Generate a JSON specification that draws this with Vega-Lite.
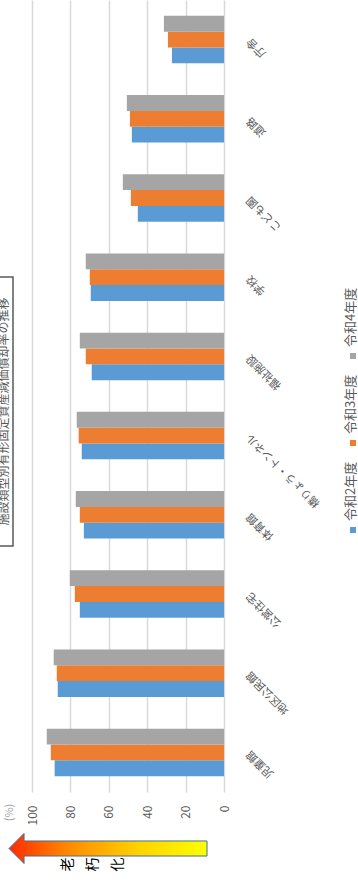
{
  "$schema": "https://vega.github.io/schema/vega-lite/v6.json",
  "padding": 0,
  "spacing": 3.5,
  "datasets": {
    "rates": [
      {"category": "庁舎", "year": "令和2年度", "value": 27.1},
      {"category": "庁舎", "year": "令和3年度", "value": 29.2},
      {"category": "庁舎", "year": "令和4年度", "value": 31.3},
      {"category": "道路", "year": "令和2年度", "value": 48.0},
      {"category": "道路", "year": "令和3年度", "value": 49.0},
      {"category": "道路", "year": "令和4年度", "value": 50.6},
      {"category": "こども園", "year": "令和2年度", "value": 44.9},
      {"category": "こども園", "year": "令和3年度", "value": 48.5},
      {"category": "こども園", "year": "令和4年度", "value": 52.7},
      {"category": "学校", "year": "令和2年度", "value": 69.4},
      {"category": "学校", "year": "令和3年度", "value": 69.9},
      {"category": "学校", "year": "令和4年度", "value": 72.0},
      {"category": "福祉施設", "year": "令和2年度", "value": 68.9},
      {"category": "福祉施設", "year": "令和3年度", "value": 72.0},
      {"category": "福祉施設", "year": "令和4年度", "value": 75.1},
      {"category": "橋りょう・トンネル", "year": "令和2年度", "value": 74.1},
      {"category": "橋りょう・トンネル", "year": "令和3年度", "value": 75.7},
      {"category": "橋りょう・トンネル", "year": "令和4年度", "value": 76.7},
      {"category": "体育館", "year": "令和2年度", "value": 73.0},
      {"category": "体育館", "year": "令和3年度", "value": 75.1},
      {"category": "体育館", "year": "令和4年度", "value": 77.2},
      {"category": "公営住宅", "year": "令和2年度", "value": 75.1},
      {"category": "公営住宅", "year": "令和3年度", "value": 77.7},
      {"category": "公営住宅", "year": "令和4年度", "value": 80.3},
      {"category": "地区公民館", "year": "令和2年度", "value": 86.6},
      {"category": "地区公民館", "year": "令和3年度", "value": 87.1},
      {"category": "地区公民館", "year": "令和4年度", "value": 88.7},
      {"category": "児童館", "year": "令和2年度", "value": 88.2},
      {"category": "児童館", "year": "令和3年度", "value": 90.2},
      {"category": "児童館", "year": "令和4年度", "value": 92.3}
    ],
    "years": [
      {"year": "令和2年度"},
      {"year": "令和3年度"},
      {"year": "令和4年度"}
    ],
    "heading": [
      {"title": "施設類型別有形固定資産減価償却率の推移"}
    ],
    "aging": [
      {"label": "老\n朽\n化"}
    ]
  },
  "vconcat": [
    {
      "bounds": "flush",
      "spacing": 0,
      "hconcat": [
        {
          "width": 32,
          "height": 792,
          "data": {"name": "heading"},
          "layer": [
            {
              "mark": {
                "type": "point",
                "shape": "M-0.0669,-1H0.0669V1H-0.0669Z",
                "size": 72361,
                "filled": false,
                "stroke": "#595959",
                "strokeWidth": 1.5,
                "opacity": 1,
                "xOffset": -12,
                "yOffset": 15.5,
                "clip": true
              },
              "encoding": {}
            },
            {
              "mark": {
                "type": "text",
                "angle": 270,
                "align": "center",
                "baseline": "middle",
                "font": "Noto Sans CJK JP",
                "fontSize": 12,
                "color": "#595959",
                "xOffset": -12,
                "yOffset": 15.5,
                "clip": true
              },
              "encoding": {"text": {"field": "title"}}
            }
          ]
        },
        {
          "width": 192,
          "height": 792,
          "data": {"name": "rates"},
          "mark": {"type": "bar"},
          "encoding": {
            "y": {
              "field": "category",
              "type": "nominal",
              "sort": ["庁舎", "道路", "こども園", "学校", "福祉施設", "橋りょう・トンネル", "体育館", "公営住宅", "地区公民館", "児童館"],
              "scale": {"paddingInner": 0.4, "paddingOuter": 0.2},
              "axis": {
                "orient": "right",
                "title": null,
                "domain": false,
                "ticks": false,
                "grid": false,
                "labelAngle": 225,
                "labelAlign": "right",
                "labelBaseline": "middle",
                "labelPadding": 24,
                "labelFont": "Noto Sans CJK JP",
                "labelFontSize": 11,
                "labelColor": "#595959",
                "labelLimit": 200
              }
            },
            "yOffset": {
              "field": "year",
              "type": "nominal",
              "sort": ["令和4年度", "令和3年度", "令和2年度"],
              "scale": {"paddingInner": 0, "paddingOuter": 0}
            },
            "x": {
              "field": "value",
              "type": "quantitative",
              "scale": {"domain": [0, 100], "reverse": true, "nice": false},
              "axis": {
                "values": [0, 20, 40, 60, 80, 100],
                "grid": true,
                "gridColor": "#d9d9d9",
                "gridWidth": 1.5,
                "domain": false,
                "ticks": false,
                "labelAngle": 270,
                "labelAlign": "right",
                "labelBaseline": "middle",
                "labelPadding": 13,
                "labelFont": "Noto Sans CJK JP",
                "labelFontSize": 12,
                "labelColor": "#595959",
                "title": "(%)",
                "titleAngle": 270,
                "titleX": -23,
                "titleY": 20,
                "titleAlign": "center",
                "titleBaseline": "middle",
                "titleFont": "Noto Sans CJK JP",
                "titleFontSize": 11,
                "titleFontWeight": "normal",
                "titleColor": "#a6a6a6"
              }
            },
            "color": {
              "field": "year",
              "type": "nominal",
              "scale": {"domain": ["令和2年度", "令和3年度", "令和4年度"], "range": ["#5b9bd5", "#ed7d31", "#a5a5a5"]},
              "legend": null
            }
          }
        },
        {
          "width": 134,
          "height": 792,
          "data": {"name": "years"},
          "encoding": {
            "y": {
              "field": "year",
              "type": "nominal",
              "sort": ["令和4年度", "令和3年度", "令和2年度"],
              "scale": {"type": "point", "range": [356, 530], "padding": 0},
              "axis": null
            },
            "color": {
              "field": "year",
              "type": "nominal",
              "scale": {"domain": ["令和2年度", "令和3年度", "令和4年度"], "range": ["#5b9bd5", "#ed7d31", "#a5a5a5"]},
              "legend": null
            }
          },
          "layer": [
            {
              "mark": {"type": "square", "size": 36, "opacity": 1, "xOffset": 62}
            },
            {
              "mark": {
                "type": "text",
                "angle": 270,
                "align": "left",
                "baseline": "middle",
                "font": "Noto Sans CJK JP",
                "fontSize": 13,
                "color": "#595959",
                "xOffset": 60,
                "yOffset": -9
              },
              "encoding": {"text": {"field": "year"}, "color": {"value": "#595959"}}
            }
          ]
        }
      ]
    },
    {
      "width": 216,
      "height": 40,
      "data": {"name": "aging"},
      "layer": [
        {
          "mark": {
            "type": "point",
            "shape": "M-1,0L-0.848,-0.152L-0.848,-0.076L1,-0.076L1,0.076L-0.848,0.076L-0.848,0.152Z",
            "size": 39204,
            "filled": true,
            "opacity": 1,
            "fill": {
              "gradient": "linear",
              "x1": 0, "y1": 0, "x2": 1, "y2": 0,
              "stops": [
                {"offset": 0, "color": "#ff2a00"},
                {"offset": 0.3, "color": "#ff8a00"},
                {"offset": 0.65, "color": "#ffd200"},
                {"offset": 1, "color": "#ffff00"}
              ]
            },
            "stroke": "#41719c",
            "strokeWidth": 1
          },
          "encoding": {}
        },
        {
          "mark": {
            "type": "text",
            "angle": 270,
            "align": "center",
            "baseline": "middle",
            "lineBreak": "\n",
            "lineHeight": 25,
            "font": "Noto Sans CJK JP",
            "fontSize": 14,
            "color": "#000000",
            "xOffset": -40,
            "yOffset": 16
          },
          "encoding": {"text": {"field": "label"}}
        }
      ]
    }
  ],
  "config": {
    "view": {"stroke": null},
    "font": "Noto Sans CJK JP"
  }
}
